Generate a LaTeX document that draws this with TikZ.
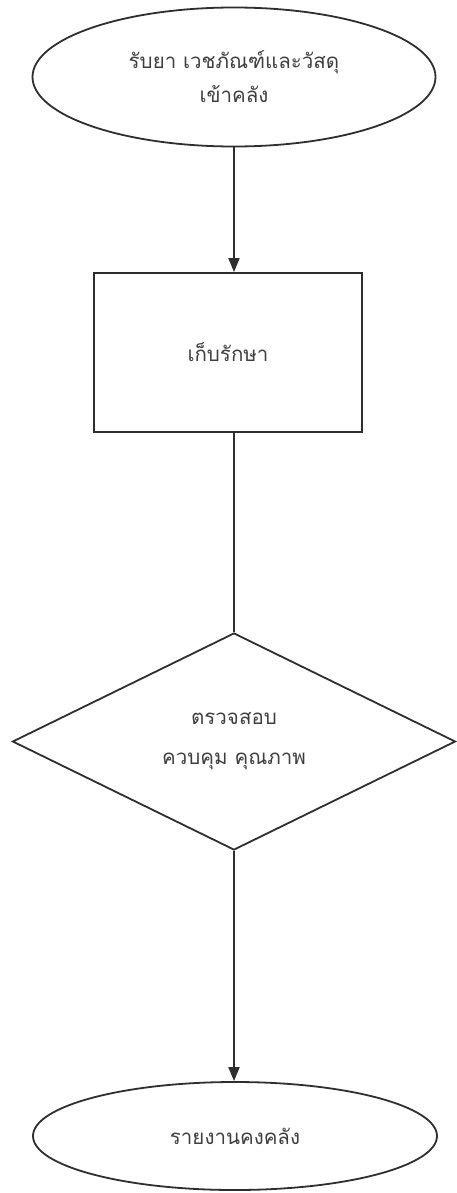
\documentclass[tikz,border=0pt]{standalone}
\usepackage{fontspec}
\newfontfamily\thaifont[Script=Thai]{Loma}
\usetikzlibrary{shapes.geometric,arrows.meta}
\definecolor{linec}{HTML}{2E2E2E}
\definecolor{textc}{HTML}{3E3E3E}
\tikzset{
  shapebox/.style={draw=linec, line width=1.8pt, inner sep=0pt, text=textc,
    font=\thaifont\fontsize{20.5}{32}\selectfont, align=center},
  arr/.style={draw=linec, line width=1.8pt, -{Triangle[length=14pt,width=11pt]}},
  linkline/.style={draw=linec, line width=1.8pt}
}
\begin{document}
\begin{tikzpicture}[x=1pt,y=-1pt]
\useasboundingbox (0,0) rectangle (457,1193);
\node[shapebox, ellipse, minimum width=403pt, minimum height=139pt] (start) at (234,77)
  {รับยา เวชภัณฑ์และวัสดุ\\[2pt]เข้าคลัง};
\node[shapebox, rectangle, minimum width=268pt, minimum height=159pt] (store) at (228,352.5)
  {เก็บรักษา};
\node[shapebox, diamond, minimum width=443pt, minimum height=217pt, font=\thaifont\fontsize{20.5}{40}\selectfont] (check) at (234,741.5)
  {ตรวจสอบ\\ควบคุม คุณภาพ};
\node[shapebox, ellipse, minimum width=404pt, minimum height=108pt] (report) at (235,1136)
  {รายงานคงคลัง};
\draw[arr] (start.south) -- (start.south |- store.north);
\draw[linkline] (check.north |- store.south) -- (check.north);
\draw[arr] (check.south) -- (check.south |- report.north);
\end{tikzpicture}
\end{document}
